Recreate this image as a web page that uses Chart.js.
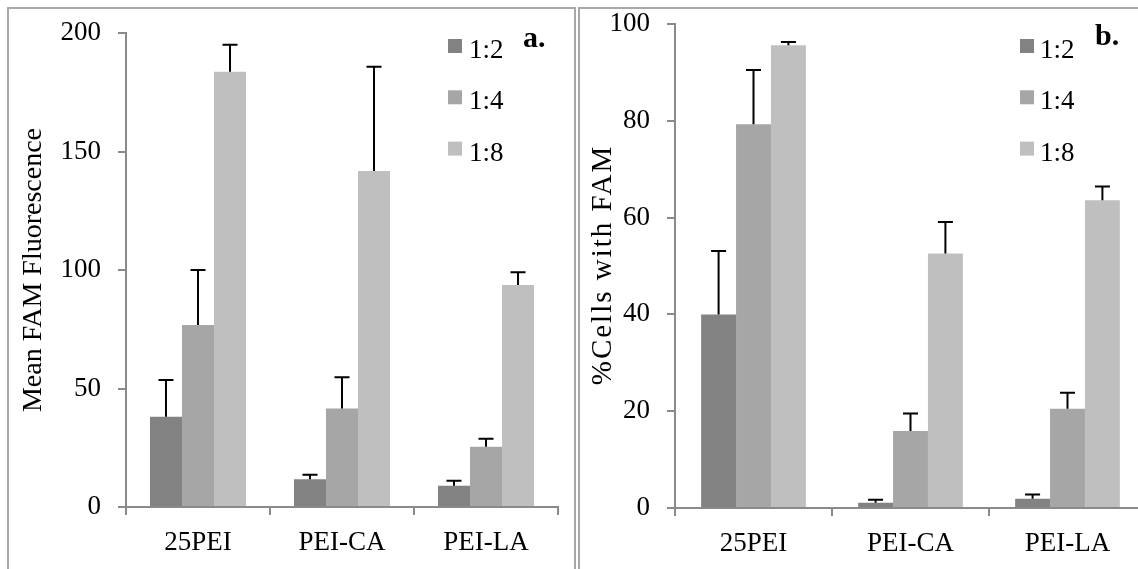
<!DOCTYPE html>
<html>
<head>
<meta charset="utf-8">
<script src="https://cdn.jsdelivr.net/npm/chart.js@4"></script>
<style>
  html, body { margin: 0; padding: 0; background: #fff; width: 1138px; height: 569px; overflow: hidden; }
  .panel { position: absolute; top: 7px; height: 600px; border: 2px solid #a8a8a8; border-bottom: none; overflow: hidden; background: #fff; }
  #pa { left: 7px; width: 565px; }
  #pb { left: 578px; width: 620px; border-right: none; }
  canvas { display: block; }
</style>
</head>
<body>
<div class="panel" id="pa"><canvas id="ca" width="565" height="560"></canvas></div>
<div class="panel" id="pb"><canvas id="cb" width="600" height="560"></canvas></div>
<script>
// Polymer groups and N/P ratios
const categories = ['25PEI', 'PEI-CA', 'PEI-LA'];
const ratioLabels = ['1:2', '1:4', '1:8'];
const ratioColors = ['#828282', '#a6a6a6', '#bfbfbf'];

// (a) Mean FAM fluorescence
const fluor_1_2 = [38.1, 11.7, 9.0];
const fluor_1_4 = [76.8, 41.6, 25.4];
const fluor_1_8 = [183.7, 141.8, 93.7];
const fluorErr_1_2 = [15.5, 1.9, 2.1];
const fluorErr_1_4 = [23.2, 13.1, 3.4];
const fluorErr_1_8 = [11.3, 44.0, 5.3];

// (b) % cells with FAM
const cells_1_2 = [40.0, 1.1, 1.9];
const cells_1_4 = [79.3, 15.9, 20.5];
const cells_1_8 = [95.6, 52.6, 63.6];
const cellsErr_1_2 = [13.1, 0.6, 0.9];
const cellsErr_1_4 = [11.2, 3.6, 3.3];
const cellsErr_1_8 = [0.7, 6.5, 2.8];

const FONT = "'Liberation Serif', 'Times New Roman', serif";
const AXIS_GREY = '#8a8a8a';

// Upper error bars with a cap, drawn from each dataset's `errors`
const errorBars = {
  id: 'errorBars',
  afterDatasetsDraw(chart, args, o) {
    const ctx = chart.ctx, ys = chart.scales.y;
    chart.data.datasets.forEach((ds, i) => {
      chart.getDatasetMeta(i).data.forEach((bar, j) => {
        const top = ys.getPixelForValue(ds.data[j] + ds.errors[j]);
        ctx.save();
        ctx.strokeStyle = o.color;
        ctx.lineWidth = o.width;
        ctx.beginPath();
        ctx.moveTo(bar.x, bar.y);
        ctx.lineTo(bar.x, top);
        ctx.moveTo(bar.x - o.cap / 2, top);
        ctx.lineTo(bar.x + o.cap / 2, top);
        ctx.stroke();
        ctx.restore();
      });
    });
  }
};

// Rotated value-axis title, centred on the plot area
const sideTitle = {
  id: 'sideTitle',
  afterDraw(chart, args, o) {
    const ctx = chart.ctx, area = chart.chartArea;
    ctx.save();
    ctx.translate(o.x, (area.top + area.bottom) / 2);
    ctx.rotate(-Math.PI / 2);
    ctx.font = o.size + 'px ' + FONT;
    if ('letterSpacing' in ctx) ctx.letterSpacing = o.spacing + 'px';
    ctx.fillStyle = '#000';
    ctx.textAlign = 'center';
    ctx.textBaseline = 'middle';
    ctx.fillText(o.text, o.spacing / 2, 0);
    ctx.restore();
  }
};

// Stacked key with square swatches plus the panel letter
const sideKey = {
  id: 'sideKey',
  afterDraw(chart, args, o) {
    const ctx = chart.ctx;
    ctx.save();
    ctx.font = o.size + 'px ' + FONT;
    ctx.textBaseline = 'alphabetic';
    ctx.textAlign = 'left';
    chart.data.datasets.forEach((ds, i) => {
      const y = o.y + i * o.step;
      ctx.fillStyle = ds.backgroundColor;
      ctx.fillRect(o.x, y, o.box, o.box);
      ctx.fillStyle = '#000';
      ctx.fillText(ds.label, o.x + o.box + o.gap, y + o.base);
    });
    ctx.font = 'bold ' + o.tagSize + 'px ' + FONT;
    ctx.fillText(o.tag, o.tagX, o.tagY);
    ctx.restore();
  }
};

function buildChart(id, series, errors, yMax, yStep, title, lay, key) {
  return new Chart(document.getElementById(id), {
    type: 'bar',
    data: {
      labels: categories,
      datasets: series.map((vals, i) => ({
        label: ratioLabels[i],
        data: vals,
        errors: errors[i],
        backgroundColor: ratioColors[i],
        borderWidth: 0,
        categoryPercentage: 0.667,
        barPercentage: 1.0
      }))
    },
    options: {
      responsive: false,
      animation: false,
      devicePixelRatio: 1,
      layout: { padding: { top: lay.top, right: lay.right, left: 0, bottom: 0 } },
      plugins: {
        legend: { display: false },
        tooltip: { enabled: false },
        errorBars: { color: '#000', width: 2, cap: 15 },
        sideTitle: title,
        sideKey: key
      },
      scales: {
        x: {
          afterFit: s => { s.height = lay.xHeight; },
          grid: { offset: true, drawOnChartArea: false, drawTicks: true, tickLength: 8, color: AXIS_GREY, lineWidth: 2 },
          border: { color: AXIS_GREY, width: 2 },
          ticks: { color: '#000', font: { family: FONT, size: 27 }, padding: 12, maxRotation: 0 }
        },
        y: {
          min: 0, max: yMax,
          afterFit: s => { s.width = lay.yWidth; s.paddingTop = 0; s.paddingBottom = 0; },
          grid: { drawOnChartArea: false, drawTicks: true, tickLength: 8, color: AXIS_GREY, lineWidth: 2 },
          border: { color: AXIS_GREY, width: 2 },
          ticks: { stepSize: yStep, color: '#000', font: { family: FONT, size: 27 }, padding: 17 }
        }
      }
    },
    plugins: [errorBars, sideTitle, sideKey]
  });
}

buildChart('ca',
  [fluor_1_2, fluor_1_4, fluor_1_8],
  [fluorErr_1_2, fluorErr_1_4, fluorErr_1_8],
  200, 50,
  { text: 'Mean FAM Fluorescence', x: 25, size: 28, spacing: 0 },
  { top: 24, right: 16, yWidth: 117, xHeight: 62 },
  { x: 439, y: 30, step: 51.3, box: 14, gap: 7, base: 19, size: 27, tag: 'a.', tagX: 514, tagY: 38, tagSize: 30 });

buildChart('cb',
  [cells_1_2, cells_1_4, cells_1_8],
  [cellsErr_1_2, cellsErr_1_4, cellsErr_1_8],
  100, 20,
  { text: '%Cells with FAM', x: 23, size: 29, spacing: 2 },
  { top: 15, right: 34, yWidth: 95, xHeight: 61 },
  { x: 440, y: 30, step: 51.3, box: 14, gap: 6, base: 19, size: 27, tag: 'b.', tagX: 515, tagY: 36, tagSize: 30 });
</script>
</body>
</html>
